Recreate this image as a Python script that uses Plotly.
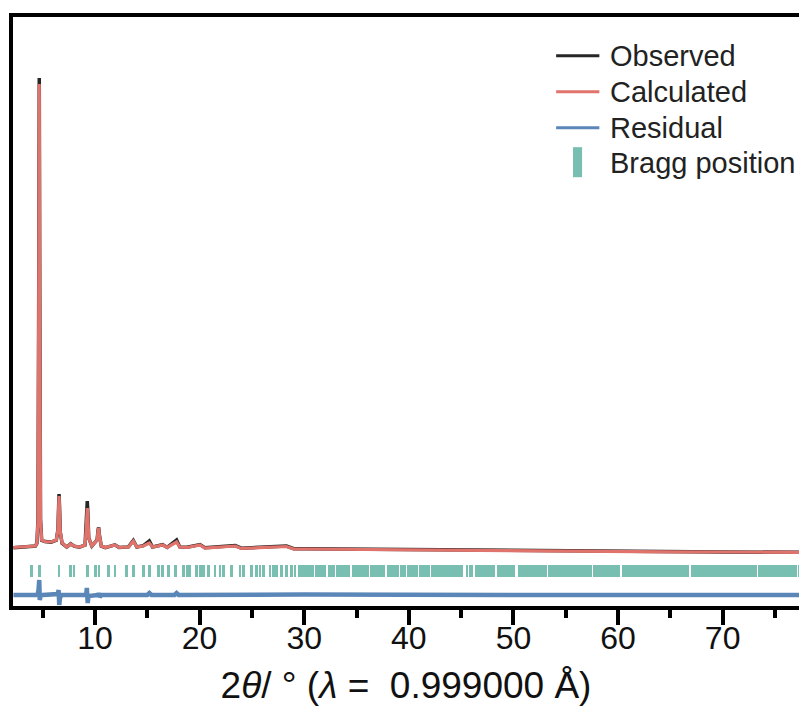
import plotly.graph_objects as go

# ---------------- data ----------------
two_theta = [2.2, 3.5, 4.3, 4.45, 4.55, 4.62, 4.67, 4.72, 4.79, 4.9, 5.2, 5.8, 6.3, 6.45,
             6.52, 6.56, 6.6, 6.68, 6.85, 7.3, 7.68, 8.0, 8.5, 9.05, 9.15, 9.22, 9.26, 9.31,
             9.4, 9.7, 10.2, 10.3, 10.35, 10.42, 10.6, 11.0, 11.9, 12.3, 13.2, 13.66, 14.0,
             14.62, 15.19, 15.5, 16.47, 16.9, 17.65, 17.8, 18.1, 18.8, 20.04, 20.5, 23.4,
             24.0, 28.3, 29.0, 30.0, 35.0, 40.0, 45.0, 50.0, 55.0, 60.0, 65.0, 70.0, 78.5]
y_calc = [50, 100, 200, 500, 2800, 24800, 46400, 24800, 2800, 800, 650, 600, 800, 1800,
          4300, 5200, 4300, 1600, 500, 100, 400, 200, 100, 300, 1800, 3600, 4000, 3300,
          1000, 200, 800, 1800, 2000, 1300, 200, 50, 300, 50, 100, 700, 100,
          200, 500, 100, 300, 50, 500, 600, 100, 50, 300, 0, 200,
          -50, 150, -100, -100, -150, -200, -250, -300, -330, -350, -380, -400, -450]
y_obs = [30, 100, 190, 480, 2900, 25500, 47000, 25500, 2900, 780, 650, 590, 780, 1800,
         4400, 5400, 4400, 1600, 480, 90, 420, 190, 90, 290, 1900, 4100, 4700, 3700,
         1000, 190, 810, 1850, 2050, 1300, 190, 40, 320, 50, 110, 750, 100,
         240, 700, 100, 330, 60, 650, 800, 110, 70, 340, 20, 240,
         -20, 200, -70, -70, -120, -170, -220, -270, -310, -330, -370, -390, -440]

res_theta = [2.2, 4.5, 4.6, 4.67, 4.72, 4.8, 5.0, 6.45, 6.52, 6.58, 6.65, 6.8, 9.15, 9.22,
             9.3, 9.38, 10.3, 10.35, 10.45, 10.6, 15.0, 15.2, 15.4, 17.6, 17.8, 18.0,
             30.0, 50.0, 78.5]
y_res = [-4700, -4700, -4200, -3200, -5200, -4800, -4700, -4600, -4200, -5700, -5000,
         -4700, -4700, -4000, -5500, -4800, -4700, -4500, -4900, -4700, -4700, -4500,
         -4700, -4700, -4500, -4700, -4650, -4700, -4700]

bragg_pos = [3.95, 4.67, 6.56, 7.68, 7.99, 9.26, 10.07, 10.38, 11.27, 11.91, 13.03, 13.66,
             14.62, 15.19, 16.05, 16.47, 17.01, 17.65, 18.44, 18.82, 19.08, 19.72, 20.04,
             20.35, 20.83, 21.47, 21.95, 22.27, 23.07, 23.86, 24.18, 24.98, 25.46, 25.77,
             26.09, 26.73, 27.05, 27.37, 27.85, 28.33, 28.80, 29.12]
bragg_block_start = [29.4, 31.0, 32.3, 33.0, 34.6, 36.3, 37.9, 39.16, 39.8, 40.35, 40.95,
                     42.1, 45.47, 45.76, 46.33, 48.43, 50.44, 53.31, 57.61, 60.38, 66.98,
                     73.38, 77.2]
bragg_block_end = [30.9, 32.1, 32.9, 34.4, 36.2, 37.7, 39.1, 39.73, 40.28, 40.88, 42.03,
                   45.18, 45.66, 46.14, 48.24, 50.15, 53.21, 57.51, 60.19, 66.79, 73.29,
                   77.11, 78.5]
bragg_low, bragg_high = -2900, -1700

legend_names = ["Observed", "Calculated", "Residual", "Bragg position"]

# ---------------- styles ----------------
C_OBS, C_CALC, C_RES, C_BRAGG = "#262626", "#e0736b", "#5b87b8", "#78bfb1"
SANS = "Liberation Sans, Arial, sans-serif"

bar_x = bragg_pos + [(a + b) / 2 for a, b in zip(bragg_block_start, bragg_block_end)]
bar_w = [0.28] * len(bragg_pos) + [b - a for a, b in zip(bragg_block_start, bragg_block_end)]

fig = go.Figure()
fig.add_trace(go.Bar(x=bar_x, y=[bragg_high - bragg_low] * len(bar_x), base=bragg_low,
                     width=bar_w, marker=dict(color=C_BRAGG, line=dict(width=0)),
                     name=legend_names[3], showlegend=False))
fig.add_trace(go.Scatter(x=two_theta, y=y_obs, mode="lines", name=legend_names[0],
                         line=dict(color=C_OBS, width=3.5), showlegend=False))
fig.add_trace(go.Scatter(x=two_theta, y=y_calc, mode="lines", name=legend_names[1],
                         line=dict(color=C_CALC, width=3.2), showlegend=False))
fig.add_trace(go.Scatter(x=res_theta, y=y_res, mode="lines", name=legend_names[2],
                         line=dict(color=C_RES, width=4.5), showlegend=False))

# manual legend (paper coordinates of the plot area)
leg_rows = [0.934, 0.873, 0.812, 0.752]
leg_colors = [C_OBS, C_CALC, C_RES]
for yy, col in zip(leg_rows[:3], leg_colors):
    fig.add_shape(type="line", xref="paper", yref="paper", x0=0.691, x1=0.746, y0=yy, y1=yy,
                  line=dict(color=col, width=3))
fig.add_shape(type="rect", xref="paper", yref="paper", x0=0.7125, x1=0.724,
              y0=0.728, y1=0.779, fillcolor=C_BRAGG, line=dict(width=0))
for yy, name in zip(leg_rows, legend_names):
    fig.add_annotation(x=0.757, y=yy, xref="paper", yref="paper", text=name,
                       showarrow=False, xanchor="left", yanchor="middle",
                       font=dict(family=SANS, size=29, color="#222222"))

fig.update_layout(
    width=799, height=722,
    margin=dict(l=13, r=0, t=17, b=116),
    paper_bgcolor="white", plot_bgcolor="white",
    barmode="overlay", bargap=0,
    showlegend=False,
    xaxis=dict(range=[2.16, 77.3], showgrid=False, zeroline=False,
               showline=True, linecolor="black", linewidth=4, mirror=True,
               ticks="outside", ticklen=15, tickwidth=4, tickcolor="black",
               tick0=10, dtick=10,
               minor=dict(ticks="outside", ticklen=8, tickwidth=4, tickcolor="black",
                          tick0=5, dtick=5, showgrid=False),
               tickfont=dict(family=SANS, size=32, color="#111111"),
               ticklabelstandoff=-14,
               title=dict(text="2<i>θ</i>/ ° (<i>λ</i> =\u00a0\u00a00.999000 Å)",
                          font=dict(family=SANS, size=37, color="#111111"), standoff=18)),
    yaxis=dict(range=[-5800, 53100], showgrid=False, zeroline=False,
               showline=True, linecolor="black", linewidth=4, mirror=False,
               ticks="", showticklabels=False),
)

fig.write_html("out.html",
               config={"displayModeBar": False},
               post_script="document.body.style.margin='0px';"
                           "document.documentElement.style.overflow='hidden';"
                           "document.body.style.overflow='hidden';")
